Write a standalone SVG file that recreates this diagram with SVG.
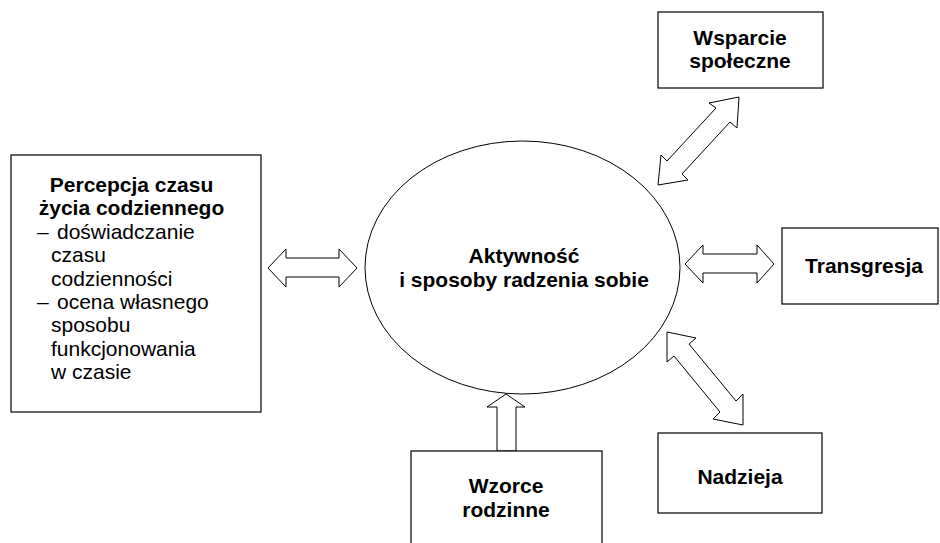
<svg xmlns="http://www.w3.org/2000/svg" width="940" height="543" viewBox="0 0 940 543">
<style>
.box{fill:#fff;stroke:#000;stroke-width:1.2}
.arr{fill:#fff;stroke:#000;stroke-width:1;stroke-linejoin:miter}
.b{font-family:"Liberation Sans",Arial,sans-serif;font-weight:bold;font-size:21px;fill:#000;text-anchor:middle}
.r{font-family:"Liberation Sans",Arial,sans-serif;font-size:21px;fill:#000}
</style>
<rect width="940" height="543" fill="#fff"/>
<g id="connectors">
<polygon class="arr" points="268,268 286,249 286,258 339,258 339,249 357,268 339,287 339,277 286,277 286,287"/>
<polygon class="arr" points="685,264 703,245 703,254 757,254 757,245 774,264 757,283 757,273 703,273 703,283"/>
<polygon class="arr" points="506,394 525,407 516,407 516,451 497,451 497,407 487,407"/>
<polygon class="arr" points="739,97 737,128 730,122 682,174 688,180 658,185 661,155 667,161 716,108 709,103"/>
<polygon class="arr" points="667,332 696,338 689,344 736,401 743,394 743,425 713,419 720,412 674,356 667,362"/>
</g>
<g id="center">
<ellipse cx="522.5" cy="267.5" rx="157.5" ry="126.5" fill="#fff" stroke="#000" stroke-width="1"/>
<text class="b" x="524" y="263">Aktywność</text>
<text class="b" x="524" y="287">i sposoby radzenia sobie</text>
</g>
<g id="percepcja">
<rect class="box" x="11" y="155" width="250" height="257"/>
<text class="b" x="131.5" y="192">Percepcja czasu</text>
<text class="b" x="131.5" y="215.4">życia codziennego</text>
<text class="r" y="238.8"><tspan x="37">–</tspan><tspan x="57">doświadczanie</tspan></text>
<text class="r" x="51" y="262.2">czasu</text>
<text class="r" x="51" y="285.6">codzienności</text>
<text class="r" y="309"><tspan x="37">–</tspan><tspan x="57">ocena własnego</tspan></text>
<text class="r" x="51" y="332.4">sposobu</text>
<text class="r" x="51" y="355.8">funkcjonowania</text>
<text class="r" x="51" y="379.2">w czasie</text>
</g>
<g id="wsparcie">
<rect class="box" x="658" y="12" width="165" height="76"/>
<text class="b" x="740" y="45">Wsparcie</text>
<text class="b" x="740" y="68">społeczne</text>
</g>
<g id="transgresja">
<rect class="box" x="782" y="228" width="156" height="76"/>
<text class="b" x="864" y="273">Transgresja</text>
</g>
<g id="nadzieja">
<rect class="box" x="658" y="433" width="164" height="80"/>
<text class="b" x="740" y="484">Nadzieja</text>
</g>
<g id="wzorce">
<rect class="box" x="411" y="451" width="191" height="100"/>
<text class="b" x="506" y="493">Wzorce</text>
<text class="b" x="506" y="517">rodzinne</text>
</g>
</svg>
